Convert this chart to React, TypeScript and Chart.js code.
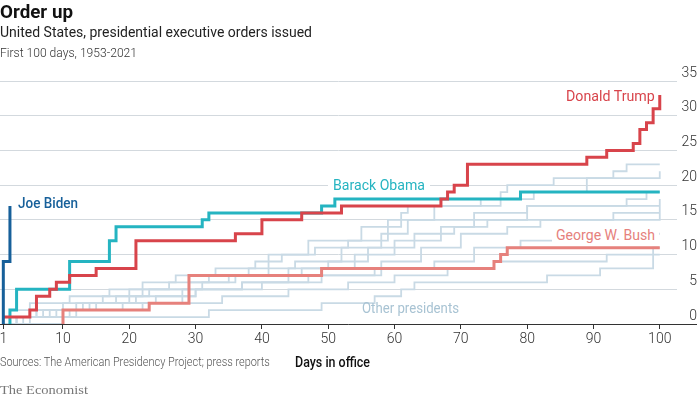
import React, { useEffect, useRef } from "react";
import { Chart, registerables } from "chart.js";

Chart.register(...registerables);

// ---------- data ----------
const xTickDays = [1, 10, 20, 30, 40, 50, 60, 70, 80, 90, 100];
const yTickValues = [0, 5, 10, 15, 20, 25, 30, 35];

const bidenDays = [1, 1, 2];
const bidenOrders = [0, 9, 17];

const trumpDays = [1, 5, 6, 8, 9, 11, 15, 21, 36, 40, 46, 52, 67, 68, 69, 71, 89, 92, 96, 97, 98, 99, 100];
const trumpOrders = [1, 2, 4, 5, 6, 7, 8, 12, 13, 15, 16, 17, 18, 19, 20, 23, 24, 25, 26, 28, 29, 31, 33];

const obamaDays = [2, 2, 3, 11, 17, 18, 31, 32, 49, 51, 79, 100];
const obamaOrders = [0, 2, 5, 9, 12, 14, 15, 16, 17, 18, 19, 19];

const bushDays = [10, 10, 23, 29, 49, 75, 76, 77, 100];
const bushOrders = [0, 2, 3, 7, 8, 9, 10, 11, 11];

const otherADays = [1, 3, 8, 13, 18, 22, 27, 33, 39, 43, 47, 55, 61, 62, 76, 77, 84, 93, 95, 100];
const otherAOrders = [0, 1, 2, 3, 4, 6, 7, 8, 9, 10, 12, 14, 16, 17, 19, 20, 21, 22, 23, 23];
const otherBDays = [1, 4, 7, 12, 20, 29, 35, 41, 48, 53, 59, 66, 73, 81, 89, 100];
const otherBOrders = [0, 1, 2, 3, 5, 6, 7, 10, 11, 12, 15, 17, 18, 19, 21, 22];
const otherCDays = [1, 2, 5, 11, 17, 26, 32, 38, 45, 52, 58, 62, 100];
const otherCOrders = [0, 2, 3, 4, 5, 6, 7, 8, 9, 11, 13, 15, 18];
const otherDDays = [1, 3, 9, 15, 24, 30, 37, 44, 50, 56, 63, 69, 74, 80, 95, 98, 100];
const otherDOrders = [0, 1, 2, 3, 4, 5, 6, 8, 9, 11, 13, 14, 15, 17, 18, 19, 19];
const otherEDays = [1, 2, 6, 10, 16, 23, 31, 36, 46, 54, 60, 67, 72, 80, 100];
const otherEOrders = [0, 1, 2, 3, 4, 5, 6, 7, 8, 10, 12, 14, 16, 17, 17];
const otherFDays = [1, 5, 12, 19, 28, 40, 47, 58, 64, 70, 77, 82, 93, 100];
const otherFOrders = [0, 1, 2, 3, 5, 6, 7, 9, 11, 13, 14, 15, 16, 16];
const otherGDays = [1, 3, 6, 14, 21, 30, 37, 49, 57, 66, 72, 79, 86, 100];
const otherGOrders = [0, 1, 2, 3, 4, 5, 6, 7, 8, 9, 11, 12, 13, 13];
const otherHDays = [1, 2, 11, 22, 34, 44, 53, 60, 68, 75, 92, 100];
const otherHOrders = [0, 1, 2, 3, 4, 5, 6, 7, 8, 9, 10, 10];
const otherIDays = [1, 10, 32, 49, 57, 61, 63, 83, 91, 99, 100];
const otherIOrders = [0, 1, 2, 3, 4, 5, 6, 7, 8, 11, 11];

const otherDays = [otherADays, otherBDays, otherCDays, otherDDays, otherEDays, otherFDays, otherGDays, otherHDays, otherIDays];
const otherOrders = [otherAOrders, otherBOrders, otherCOrders, otherDOrders, otherEOrders, otherFOrders, otherGOrders, otherHOrders, otherIOrders];

// ---------- styling ----------
const FONT = "Roboto, 'Open Sans', sans-serif";
const C_TRUMP = "#d8444b";
const C_OBAMA = "#25b4c1";
const C_BUSH = "#e6817c";
const C_BIDEN = "#17609a";
const C_OTHER = "#c9dae5";

const measureCtx = typeof document !== "undefined" ? document.createElement("canvas").getContext("2d") : null;
function measure(text: string, font: string) {
  if (!measureCtx) return 1;
  measureCtx.font = font;
  return measureCtx.measureText(text).width || 1;
}

function Label(props: { text: string; x: number; cy: number; w?: number; size: number; weight?: number; color: string; family?: string }) {
  const { text, x, cy, w, size, weight = 400, color, family = FONT } = props;
  const font = `${weight} ${size}px ${family}`;
  const s = w ? w / measure(text, font) : 1;
  return (
    <div
      style={{
        position: "absolute",
        left: x,
        top: cy,
        transform: `translateY(-50%) scaleX(${s})`,
        transformOrigin: "left center",
        font,
        color,
        whiteSpace: "nowrap",
        lineHeight: 1,
      }}
    >
      {text}
    </div>
  );
}

function Box(props: { x: number; y: number; w: number; h: number }) {
  return <div style={{ position: "absolute", left: props.x, top: props.y, width: props.w, height: props.h, background: "#fff" }} />;
}

function series(days: number[], vals: number[], color: string, width: number) {
  return {
    data: days.map((d, i) => ({ x: d, y: vals[i] })),
    borderColor: color,
    borderWidth: width,
    stepped: true as const,
    pointRadius: 0,
    fill: false,
    borderJoinStyle: "miter" as const,
    borderCapStyle: "butt" as const,
  };
}

const axisLinePlugin = {
  id: "axisLine",
  afterDatasetsDraw(chart: any) {
    const { ctx, chartArea, scales } = chart;
    const y = Math.round(scales.y.getPixelForValue(0)) + 0.5;
    ctx.save();
    ctx.strokeStyle = "#333";
    ctx.lineWidth = 1;
    ctx.beginPath();
    ctx.moveTo(chartArea.left, y);
    ctx.lineTo(chart.width - 3, y);
    ctx.stroke();
    ctx.restore();
  },
};

export default function App() {
  const ref = useRef<HTMLCanvasElement>(null);

  useEffect(() => {
    document.body.style.margin = "0";
    const canvas = ref.current;
    if (!canvas) return;
    const datasets: any[] = [
      series(bidenDays, bidenOrders, C_BIDEN, 3),
      series(trumpDays, trumpOrders, C_TRUMP, 3),
      series(obamaDays, obamaOrders, C_OBAMA, 3),
      series(bushDays, bushOrders, C_BUSH, 3),
      ...otherDays.map((d, i) => series(d, otherOrders[i], C_OTHER, 1.8)),
    ];
    const chart = new Chart(canvas, {
      type: "line",
      data: { datasets },
      plugins: [axisLinePlugin],
      options: {
        responsive: false,
        animation: false,
        devicePixelRatio: 1,
        layout: { padding: { left: 0, right: 3, top: 81, bottom: 47 } },
        plugins: { legend: { display: false }, tooltip: { enabled: false } },
        scales: {
          x: {
            type: "linear",
            min: 0.5,
            max: 102.6,
            position: "bottom",
            afterBuildTicks: (s: any) => {
              s.ticks = xTickDays.map((v) => ({ value: v }));
            },
            afterFit: (s: any) => {
              s.height = 28;
              s.paddingLeft = 0;
              s.paddingRight = 0;
            },
            grid: { drawOnChartArea: false, drawTicks: true, tickLength: 5, color: "#333", lineWidth: 1 },
            border: { display: false },
            ticks: {
              padding: 2,
              autoSkip: false,
              maxRotation: 0,
              font: { family: FONT, size: 14, weight: 300 as any },
              color: "#333",
              callback: (v: any) => String(v),
            },
          },
          y: {
            type: "linear",
            min: 0,
            max: 35,
            position: "right",
            afterBuildTicks: (s: any) => {
              s.ticks = yTickValues.map((v) => ({ value: v }));
            },
            afterFit: (s: any) => {
              s.width = 20;
              s.paddingTop = 0;
              s.paddingBottom = 0;
            },
            grid: { color: "#d3d9de", lineWidth: 1, drawTicks: false },
            border: { display: false },
            ticks: {
              padding: 5,
              crossAlign: "far",
              labelOffset: -8,
              font: { family: FONT, size: 14, weight: 300 as any },
              color: "#333",
              callback: (v: any) => String(v),
            },
          },
        },
      },
    });
    return () => chart.destroy();
  }, []);

  return (
    <div style={{ position: "relative", width: 700, height: 399, background: "#fff", overflow: "hidden" }}>
      <canvas ref={ref} width={700} height={399} style={{ position: "absolute", left: 0, top: 0 }} />
      <Label text="Order up" x={0} cy={12} w={73} size={18} weight={700} color="#111" />
      <Label text="United States, presidential executive orders issued" x={0} cy={33} w={312} size={15.5} color="#222" />
      <Label text="First 100 days, 1953-2021" x={0} cy={52} w={137} size={13} weight={300} color="#333" />

      <Label text="Donald Trump" x={566} cy={96} w={89} size={14} color={C_TRUMP} />
      <Box x={328} y={178} w={102} h={14} />
      <Label text="Barack Obama" x={333} cy={185} w={92} size={14} color={C_OBAMA} />
      <Box x={552} y={227} w={107} h={16} />
      <Label text="George W. Bush" x={556} cy={235} w={99} size={14} color={C_BUSH} />
      <Label text="Joe Biden" x={18} cy={203} w={60} size={14} weight={500} color={C_BIDEN} />
      <Label text="Other presidents" x={362} cy={308} w={97} size={14} color="#a8c3d3" />

      <Label text="Sources: The American Presidency Project; press reports" x={0} cy={362} w={270} size={12} weight={300} color="#555" />
      <Label text="Days in office" x={295} cy={362} w={75} size={14} weight={500} color="#111" />
      <Label text="The Economist" x={0} cy={389} w={88} size={13} color="#777" family="'Liberation Serif', 'DejaVu Serif', serif" />
    </div>
  );
}
